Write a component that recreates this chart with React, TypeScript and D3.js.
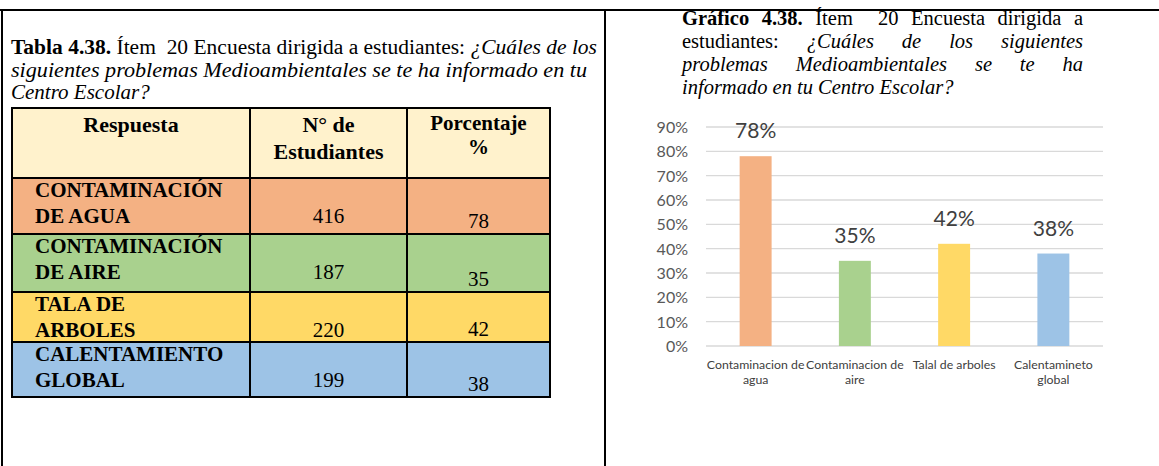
import React from "react";
import * as d3 from "d3";

// ---------- DATA ----------
const categories = ["Contaminacion de agua", "Contaminacion de aire", "Talal de arboles", "Calentamineto global"];
const categoryLines = [["Contaminacion de", "agua"], ["Contaminacion de", "aire"], ["Talal de arboles"], ["Calentamineto", "global"]];
const percentValues = [0.78, 0.35, 0.42, 0.38];
const yTicks = [0, 0.1, 0.2, 0.3, 0.4, 0.5, 0.6, 0.7, 0.8, 0.9];
const barColors = ["#F4B183", "#A9D18E", "#FFD966", "#9DC3E6"];

const tableHeaders = [["Respuesta"], ["N° de", "Estudiantes"], ["Porcentaje", "%"]];
const tableResponses = [["CONTAMINACIÓN", "DE AGUA"], ["CONTAMINACIÓN", "DE AIRE"], ["TALA DE", "ARBOLES"], ["CALENTAMIENTO", "GLOBAL"]];
const tableCounts = [416, 187, 220, 199];
const tablePercents = [78, 35, 42, 38];

// ---------- LAYOUT ----------
const W = 1159;
const H = 466;
const SERIF = '"Liberation Serif", "Times New Roman", serif';
const SANS = 'Lato, "Open Sans", sans-serif';

const colEdges = [12, 250, 407, 550];
const rowEdges = [108, 178, 234, 292, 342, 397];
const percentOffsets = [50, 52, 44, 49];

let ctx: CanvasRenderingContext2D | null = null;
function measure(text: string, font: string) {
  if (!ctx) ctx = document.createElement("canvas").getContext("2d");
  if (!ctx) return text.length * 9;
  ctx.font = font;
  return ctx.measureText(text).width;
}

type Word = { t: string; s: "b" | "n" | "i" };
function fontOf(s: string, size: number) {
  const pre = s === "b" ? "bold " : s === "i" ? "italic " : "";
  return `${pre}${size}px "Liberation Serif"`;
}

const rtLines: { words: Word[]; gaps: number[]; justify: boolean }[] = [
  {
    words: [
      { t: "Gráfico", s: "b" }, { t: "4.38.", s: "b" }, { t: "Ítem", s: "n" }, { t: "20", s: "n" },
      { t: "Encuesta", s: "n" }, { t: "dirigida", s: "n" }, { t: "a", s: "n" },
    ],
    gaps: [1, 1, 2, 1, 1, 1],
    justify: true,
  },
  {
    words: [
      { t: "estudiantes:", s: "n" }, { t: "¿Cuáles", s: "i" }, { t: "de", s: "i" }, { t: "los", s: "i" }, { t: "siguientes", s: "i" },
    ],
    gaps: [1, 1, 1, 1],
    justify: true,
  },
  {
    words: [
      { t: "problemas", s: "i" }, { t: "Medioambientales", s: "i" }, { t: "se", s: "i" }, { t: "te", s: "i" }, { t: "ha", s: "i" },
    ],
    gaps: [1, 1, 1, 1],
    justify: true,
  },
  {
    words: [
      { t: "informado", s: "i" }, { t: "en", s: "i" }, { t: "tu", s: "i" }, { t: "Centro", s: "i" }, { t: "Escolar?", s: "i" },
    ],
    gaps: [1, 1, 1, 1],
    justify: false,
  },
];
const rtBaselines = [25, 48, 71, 94];
const rtX0 = 682;
const rtX1 = 1083;
const RT_SIZE = 20.5;

function layoutLine(line: { words: Word[]; gaps: number[]; justify: boolean }) {
  const widths = line.words.map((w) => measure(w.t, fontOf(w.s, RT_SIZE)));
  const total = widths.reduce((a, b) => a + b, 0);
  const gapUnits = line.gaps.reduce((a, b) => a + b, 0);
  const spaceW = measure(" ", fontOf("n", RT_SIZE));
  const unit = line.justify ? (rtX1 - rtX0 - total) / gapUnits : spaceW;
  const xs: number[] = [];
  let cx = rtX0;
  line.words.forEach((_, i) => {
    xs.push(cx);
    cx += widths[i] + (i < line.gaps.length ? line.gaps[i] * unit : 0);
  });
  return xs;
}

export default function App() {
  const x = d3.scaleBand<string>().domain(categories).range([706, 1103]).paddingInner(0.678).paddingOuter(0.339);
  const y = d3.scaleLinear().domain([0, 0.9]).range([346, 127]);
  const pct = d3.format(".0%");

  return (
    <svg
      width={W}
      height={H}
      style={{ position: "absolute", left: 0, top: 0, background: "#fff" }}
      fontFamily={SERIF}
    >
      <rect x={0} y={0} width={W} height={H} fill="#fff" />

      {/* frame */}
      <line x1={0} x2={W} y1={10} y2={10} stroke="#000" strokeWidth={2} />
      <line x1={2} x2={2} y1={9} y2={H} stroke="#000" strokeWidth={2} />
      <line x1={605} x2={605} y1={9} y2={H} stroke="#000" strokeWidth={2} />

      {/* left title */}
      <text x={11} y={54} fontSize={20} style={{ whiteSpace: "pre" }} textLength={586} lengthAdjust="spacingAndGlyphs">
        <tspan fontWeight="bold">Tabla 4.38.</tspan>
        <tspan>{" Ítem  20 Encuesta dirigida a estudiantes: "}</tspan>
        <tspan fontStyle="italic">¿Cuáles de los</tspan>
      </text>
      <text x={11} y={77} fontSize={20} fontStyle="italic" textLength={576} lengthAdjust="spacingAndGlyphs">
        siguientes problemas Medioambientales se te ha informado en tu
      </text>
      <text x={11} y={99} fontSize={21} fontStyle="italic">
        Centro Escolar?
      </text>

      {/* table */}
      <rect x={colEdges[0]} y={rowEdges[0]} width={colEdges[3] - colEdges[0]} height={rowEdges[1] - rowEdges[0]} fill="#FFF2CC" />
      {tableResponses.map((_, i) => (
        <rect
          key={"rowbg" + i}
          x={colEdges[0]}
          y={rowEdges[i + 1]}
          width={colEdges[3] - colEdges[0]}
          height={rowEdges[i + 2] - rowEdges[i + 1]}
          fill={barColors[i]}
        />
      ))}
      {rowEdges.map((ry, i) => (
        <line key={"hl" + i} x1={colEdges[0] - 1} x2={colEdges[3] + 1} y1={ry} y2={ry} stroke="#000" strokeWidth={2} />
      ))}
      {colEdges.map((cx, i) => (
        <line key={"vl" + i} x1={cx} x2={cx} y1={rowEdges[0]} y2={rowEdges[5]} stroke="#000" strokeWidth={2} />
      ))}

      {/* header text */}
      <text x={(colEdges[0] + colEdges[1]) / 2} y={132} fontSize={22} fontWeight="bold" textAnchor="middle">
        {tableHeaders[0][0]}
      </text>
      <text x={(colEdges[1] + colEdges[2]) / 2} y={132} fontSize={22} fontWeight="bold" textAnchor="middle">
        {tableHeaders[1][0]}
      </text>
      <text x={(colEdges[1] + colEdges[2]) / 2} y={159} fontSize={22} fontWeight="bold" textAnchor="middle">
        {tableHeaders[1][1]}
      </text>
      <text x={(colEdges[2] + colEdges[3]) / 2} y={130} fontSize={21} fontWeight="bold" textAnchor="middle">
        {tableHeaders[2][0]}
      </text>
      <text x={(colEdges[2] + colEdges[3]) / 2} y={154} fontSize={21} fontWeight="bold" textAnchor="middle">
        {tableHeaders[2][1]}
      </text>

      {/* table rows */}
      {tableResponses.map((lines, i) => {
        const top = rowEdges[i + 1];
        return (
          <g key={"row" + i}>
            {lines.map((l, j) => (
              <text key={j} x={35} y={top + 19 + j * 26} fontSize={21} fontWeight="bold">
                {l}
              </text>
            ))}
            <text x={(colEdges[1] + colEdges[2]) / 2} y={top + 45} fontSize={21} textAnchor="middle">
              {tableCounts[i]}
            </text>
            <text x={(colEdges[2] + colEdges[3]) / 2} y={top + percentOffsets[i]} fontSize={21} textAnchor="middle">
              {tablePercents[i]}
            </text>
          </g>
        );
      })}

      {/* right title */}
      {rtLines.map((line, li) => {
        const xs = layoutLine(line);
        return (
          <g key={"rt" + li}>
            {line.words.map((w, wi) => (
              <text
                key={wi}
                x={xs[wi]}
                y={rtBaselines[li]}
                fontSize={RT_SIZE}
                fontWeight={w.s === "b" ? "bold" : "normal"}
                fontStyle={w.s === "i" ? "italic" : "normal"}
              >
                {w.t}
              </text>
            ))}
          </g>
        );
      })}

      {/* chart */}
      <g fontFamily={SANS}>
        {yTicks.map((t) => (
          <line key={"g" + t} x1={706} x2={1103} y1={y(t)} y2={y(t)} stroke="#D9D9D9" strokeWidth={1.3} />
        ))}
        {yTicks.map((t) => (
          <text key={"yt" + t} x={688} y={y(t) + 6} fontSize={16} fill="#595959" textAnchor="end">
            {pct(t)}
          </text>
        ))}
        {categories.map((c, i) => (
          <rect key={"bar" + c} x={x(c)!} y={y(percentValues[i])} width={x.bandwidth()} height={y(0) - y(percentValues[i])} fill={barColors[i]} />
        ))}
        {categories.map((c, i) => (
          <text
            key={"dl" + c}
            x={x(c)! + x.bandwidth() / 2}
            y={y(percentValues[i]) - 18}
            fontSize={21}
            fill="#404040"
            textAnchor="middle"
          >
            {pct(percentValues[i])}
          </text>
        ))}
        {categories.map((c, i) => (
          <g key={"xl" + c}>
            {categoryLines[i].map((l, j) => (
              <text key={j} x={x(c)! + x.bandwidth() / 2} y={369 + j * 15} fontSize={12.3} fill="#404040" textAnchor="middle">
                {l}
              </text>
            ))}
          </g>
        ))}
      </g>
    </svg>
  );
}
